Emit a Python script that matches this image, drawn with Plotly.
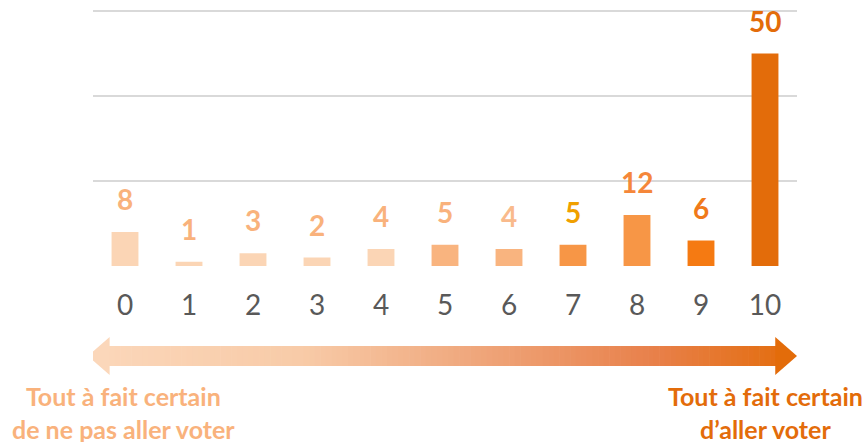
import plotly.graph_objects as go

categories = ["0", "1", "2", "3", "4", "5", "6", "7", "8", "9", "10"]
values = [8, 1, 3, 2, 4, 5, 4, 5, 12, 6, 50]
bar_colors = ["#FBD5B5", "#FBD5B5", "#FBD5B5", "#FBD5B5", "#FBD5B5",
              "#F9B47F", "#F9B47F", "#F79646", "#F79646", "#F57A12", "#E36C0A"]
label_colors = ["#F9B27C", "#F9B27C", "#F9B27C", "#F9B27C", "#F9B27C",
                "#F9B27C", "#F9BA8C", "#F0A000", "#F5873A", "#F07A1A", "#E36C0A"]
left_label = "Tout à fait certain<br>de ne pas aller voter"
right_label = "Tout à fait certain<br>d’aller voter"

FONT = "Lato, Calibri, 'Liberation Sans', sans-serif"

fig = go.Figure()
fig.add_trace(go.Bar(
    x=list(range(len(categories))), y=values,
    marker=dict(color=bar_colors, line=dict(width=0)),
    width=0.42, hoverinfo="skip",
))

for i, (v, c) in enumerate(zip(values, label_colors)):
    fig.add_annotation(x=i, y=v, text=f"<b>{v}</b>", showarrow=False,
                       yanchor="bottom", yshift=14,
                       font=dict(family=FONT, size=28, color=c))

# gradient arrow (decoration)
def hex2rgb(h):
    h = h.lstrip("#")
    return tuple(int(h[k:k + 2], 16) for k in (0, 2, 4))

stops = [(0.0, "#FBD7BA"), (0.3, "#F8CBA8"), (0.55, "#EFA67B"), (0.8, "#E8804A"), (1.0, "#E36C0A")]

def color_at(t):
    for (t0, c0), (t1, c1) in zip(stops[:-1], stops[1:]):
        if t0 <= t <= t1:
            f = (t - t0) / (t1 - t0) if t1 > t0 else 0
            a, b = hex2rgb(c0), hex2rgb(c1)
            return "rgb(%d,%d,%d)" % tuple(round(a[k] + (b[k] - a[k]) * f) for k in range(3))
    return stops[-1][1]

TOP_PX, BOT_PX = 9, 266
def py(ypx):
    return (BOT_PX - ypx) / (BOT_PX - TOP_PX)

x_left, x_right = -0.58, 10.5
head = 0.33
y_mid = 356
shaft_top, shaft_bot = py(y_mid - 10), py(y_mid + 10)
head_top, head_bot = py(y_mid - 19), py(y_mid + 19)

N = 120
x0s = x_left + head
x1s = x_right - head
for k in range(N):
    a = x0s + (x1s - x0s) * k / N
    b = x0s + (x1s - x0s) * (k + 1) / N + 0.01
    t = ((a + b) / 2 - x_left) / (x_right - x_left)
    fig.add_shape(type="rect", xref="x", yref="paper", x0=a, x1=b,
                  y0=shaft_bot, y1=shaft_top, line=dict(width=0),
                  fillcolor=color_at(t), layer="above")

ym = py(y_mid)
fig.add_shape(type="path", xref="x", yref="paper",
              path=f"M {x_left} {ym} L {x_left + head + 0.01} {head_top} L {x_left + head + 0.01} {head_bot} Z",
              fillcolor=color_at(0.0), line=dict(width=0))
fig.add_shape(type="path", xref="x", yref="paper",
              path=f"M {x_right} {ym} L {x_right - head - 0.01} {head_top} L {x_right - head - 0.01} {head_bot} Z",
              fillcolor=color_at(1.0), line=dict(width=0))

fig.add_annotation(x=-0.03, y=py(412), xref="x", yref="paper", text=f"<b>{left_label}</b>",
                   showarrow=False, align="center", yanchor="middle",
                   font=dict(family=FONT, size=25, color="#F9B27C"))
fig.add_annotation(x=10, y=py(412), xref="x", yref="paper", text=f"<b>{right_label}</b>",
                   showarrow=False, align="center", yanchor="middle",
                   font=dict(family=FONT, size=25, color="#E36C0A"))

fig.update_layout(
    width=867, height=442,
    margin=dict(l=93, r=70, t=TOP_PX, b=442 - BOT_PX),
    paper_bgcolor="white", plot_bgcolor="white",
    showlegend=False, bargap=0.5,
)
fig.update_xaxes(tickmode="array", tickvals=list(range(len(categories))), ticktext=categories,
                 range=[-0.5, 10.5], showgrid=False, zeroline=False, showline=False,
                 tickfont=dict(family=FONT, size=28, color="#595959"),
                 ticks="outside", ticklen=14, tickcolor="rgba(0,0,0,0)")
fig.update_yaxes(range=[0, 60.5], tickvals=[0, 20, 40, 60], showticklabels=False,
                 showgrid=True, gridcolor="#D9D9D9", gridwidth=2, zeroline=False)

fig.write_html("out.html", config={"displayModeBar": False},
               post_script="document.body.style.margin='0';")
